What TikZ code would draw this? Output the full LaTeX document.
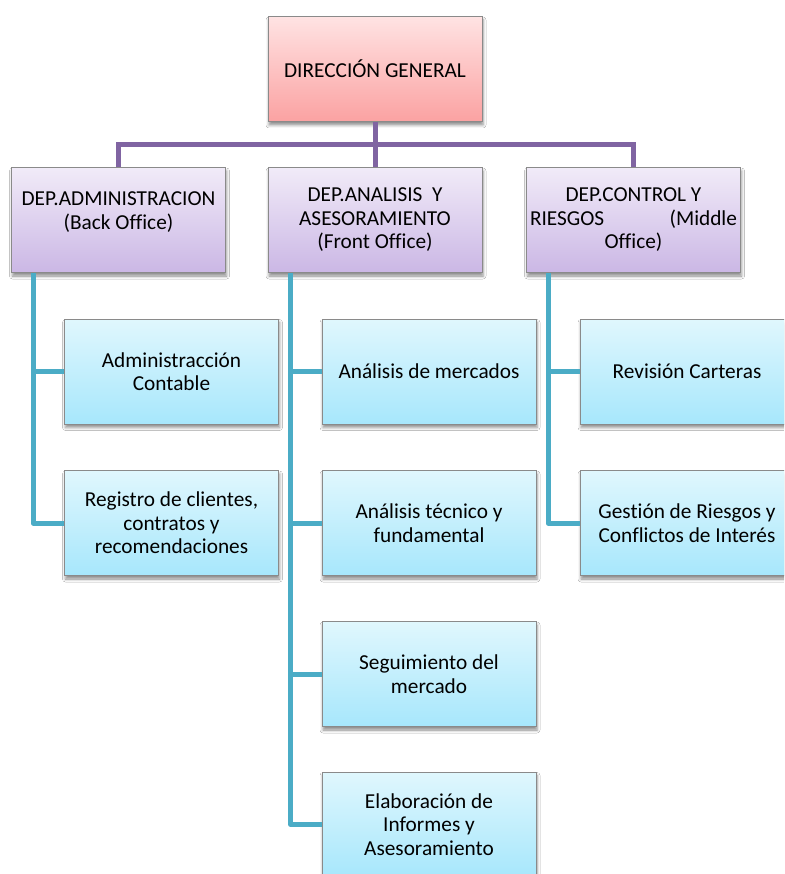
\documentclass[tikz,border=0pt]{standalone}
\usepackage{fontspec}
\setmainfont{Carlito}[Ligatures=NoCommon]
\usetikzlibrary{calc,shadows.blur}
\definecolor{purp}{HTML}{8064A2}
\definecolor{tealc}{HTML}{4BACC6}
\definecolor{pinkT}{HTML}{FFE3E3}
\definecolor{pinkB}{HTML}{FBA2A2}
\definecolor{lavT}{HTML}{F1EBF8}
\definecolor{lavB}{HTML}{CBB7E5}
\definecolor{cyT}{HTML}{E0F7FD}
\definecolor{cyB}{HTML}{A7E7FC}
\definecolor{bord}{HTML}{8A8A8A}
\begin{document}
\begin{tikzpicture}[x=1pt,y=-1pt,
  font=\fontsize{21.3}{23.5}\selectfont,
  box/.style={draw=bord, line width=0.8pt, minimum width=214pt, minimum height=105pt,
    inner sep=0pt, align=center,
    blur shadow={shadow xshift=1pt, shadow yshift=-3.5pt, shadow blur radius=3pt, shadow opacity=45}},
  topbox/.style={box, top color=pinkT, bottom color=pinkB},
  depbox/.style={box, top color=lavT, bottom color=lavB},
  subbox/.style={box, top color=cyT, bottom color=cyB},
  pline/.style={draw=purp, line width=5pt},
  tline/.style={draw=tealc, line width=5pt, line join=round}]
\clip (0,0) rectangle (784,874);
\fill[white] (0,0) rectangle (784,874);

\node[topbox] (dg) at (375,69) {DIRECCIÓN GENERAL};

\node[depbox] (adm) at (118.5,220) {DEP.ADMINISTRACION\\(Back Office)\\[-5pt]\mbox{}};
\node[depbox] (ana) at (375,220) {DEP.ANALISIS\ \ Y\\ASESORAMIENTO\\(Front Office)};
\node[depbox] (ctl) at (633.5,220) {DEP.CONTROL Y\\\makebox[207pt]{RIESGOS\hfill(Middle}\\Office)};

\node[subbox] (a1) at (171.5,371.5) {Administracción\\Contable};
\node[subbox] (a2) at (171.5,523) {Registro de clientes,\\contratos y\\recomendaciones};

\node[subbox] (b1) at (429,371.5) {Análisis de mercados};
\node[subbox] (b2) at (429,523) {Análisis técnico y\\fundamental};
\node[subbox] (b3) at (429,674) {Seguimiento del\\mercado};
\node[subbox] (b4) at (429,824.5) {Elaboración de\\Informes y\\Asesoramiento};

\node[subbox] (c1) at (687,371.5) {Revisión Carteras};
\node[subbox] (c2) at (687,523) {Gestión de Riesgos y\\Conflictos de Interés};

% purple connectors
\coordinate (bus) at (375,145);
\draw[pline] (dg.south) -- (ana.north);
\draw[pline] (adm.north) |- (bus) -| (ctl.north);

% teal connectors
\coordinate (ta) at ($(adm.south west)+(22,0)$);
\coordinate (tb) at ($(ana.south west)+(23,0)$);
\coordinate (tc) at ($(ctl.south west)+(22,0)$);
\draw[tline] (ta) |- (a2.west);
\draw[tline] (ta) |- (a1.west);
\draw[tline] (tb) |- (b4.west);
\draw[tline] (tb) |- (b1.west);
\draw[tline] (tb) |- (b2.west);
\draw[tline] (tb) |- (b3.west);
\draw[tline] (tc) |- (c2.west);
\draw[tline] (tc) |- (c1.west);
\end{tikzpicture}
\end{document}
